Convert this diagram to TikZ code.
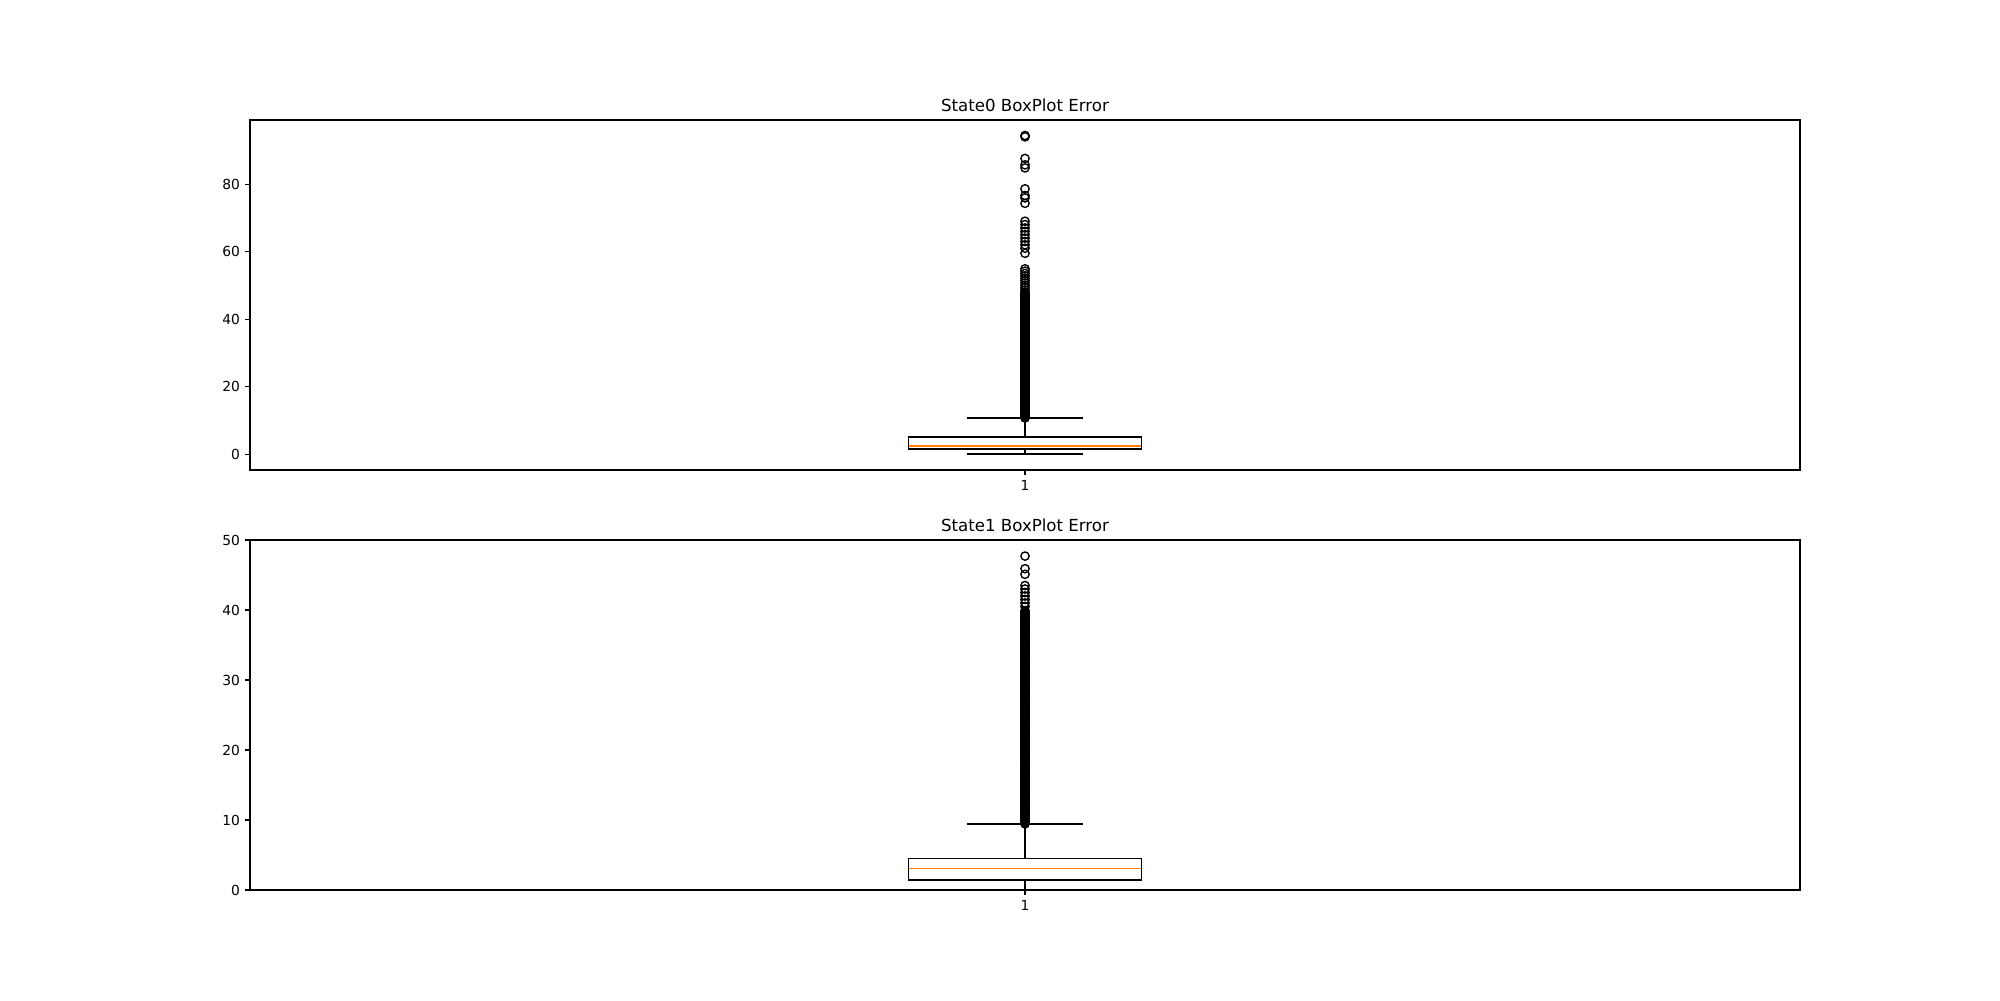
\documentclass[tikz,border=0pt]{standalone}
\usepackage{fontspec}
\setmainfont{DejaVu Sans}
\usepackage{tikz}
\definecolor{mplorange}{HTML}{FF7F0E}
\tikzstyle{axisframe} = [draw=black, line width=0.8pt]
\tikzstyle{tickmark} = [draw=black, line width=0.8pt]
\tikzstyle{ticklabel} = [inner sep=0pt, font=\fontsize{10}{12}\selectfont]
\tikzstyle{titlelabel} = [inner sep=0pt, font=\fontsize{12}{14}\selectfont]
\tikzstyle{boxline} = [draw=black, line width=1pt]
\tikzstyle{medianline} = [draw=mplorange, line width=1pt]
\tikzstyle{flier} = [draw=black, line width=1pt]

\begin{document}
\begin{tikzpicture}[x=0.01in, y=-0.01in]
\useasboundingbox (0,0) rectangle (2000,1000);

% State0 panel
\draw [boxline] (1025,{454.1-3.375*1.48}) -- (1025,{454.1-3.375*0});
\draw [boxline] (1025,{454.1-3.375*5.04}) -- (1025,{454.1-3.375*10.67});
\draw [boxline] (966.9,{454.1-3.375*0}) -- (1083.1,{454.1-3.375*0});
\draw [boxline] (966.9,{454.1-3.375*10.67}) -- (1083.1,{454.1-3.375*10.67});
\draw [boxline] (908.75,{454.1-3.375*1.48}) rectangle (1141.25,{454.1-3.375*5.04});
\draw [medianline] (908.75,{454.1-3.375*2.37}) -- (1141.25,{454.1-3.375*2.37});
\foreach \v in {10.7,10.95,...,48}
  \draw [flier] (1025,{454.1-3.375*\v}) circle (3pt);
\foreach \v in {48.6,49.3,...,55.5,59.5,61,62,...,69.4,74.3,75.9,76.6,78.6,84.8,85.7,87.6,94.0,94.4}
  \draw [flier] (1025,{454.1-3.375*\v}) circle (3pt);
\draw [axisframe] (250,120) rectangle (1800,470);
\foreach \v in {0,20,...,80} {
  \draw [tickmark] (250,{454.1-3.375*\v}) -- ++(-4.86,0);
  \node (ytA\v) [ticklabel, anchor=east] at (240.3,{454.1-3.375*\v}) {\v};
}
\draw [tickmark] (1025,470) -- ++(0,4.86);
\node (xtA) [ticklabel, anchor=north] at (1025,479.7) {1};
\node (titleA) [titlelabel, anchor=base] at (1025,111.7) {State0 BoxPlot Error};

% State1 panel
\draw [boxline] (1025,{890-7*1.43}) -- (1025,{890-7*0.05});
\draw [boxline] (1025,{890-7*4.53}) -- (1025,{890-7*9.43});
\draw [boxline] (966.9,{890-7*0.05}) -- (1083.1,{890-7*0.05});
\draw [boxline] (966.9,{890-7*9.43}) -- (1083.1,{890-7*9.43});
\draw [boxline] (908.75,{890-7*1.43}) rectangle (1141.25,{890-7*4.53});
\draw [medianline] (908.75,{890-7*3.1}) -- (1141.25,{890-7*3.1});
\foreach \v in {9.45,9.6,...,40}
  \draw [flier] (1025,{890-7*\v}) circle (3pt);
\foreach \v in {40.5,41,...,43.8,45.1,45.9,47.7}
  \draw [flier] (1025,{890-7*\v}) circle (3pt);
\draw [axisframe] (250,540) rectangle (1800,890);
\foreach \v in {0,10,...,50} {
  \draw [tickmark] (250,{890-7*\v}) -- ++(-4.86,0);
  \node (ytB\v) [ticklabel, anchor=east] at (240.3,{890-7*\v}) {\v};
}
\draw [tickmark] (1025,890) -- ++(0,4.86);
\node (xtB) [ticklabel, anchor=north] at (1025,899.7) {1};
\node (titleB) [titlelabel, anchor=base] at (1025,531.7) {State1 BoxPlot Error};
\end{tikzpicture}
\end{document}
